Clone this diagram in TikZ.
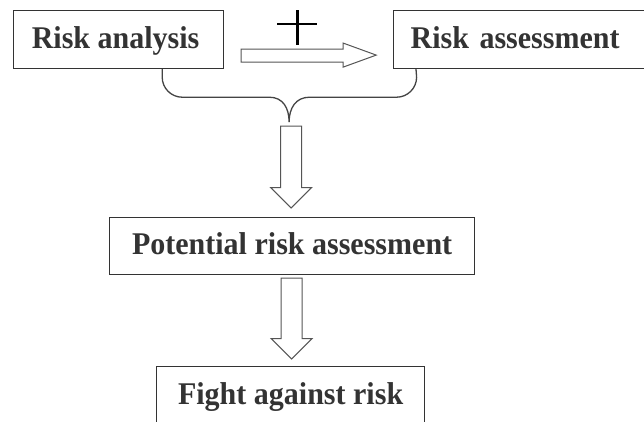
\documentclass[tikz,border=0pt]{standalone}
\usepackage{fontspec}
\setmainfont[FakeStretch=0.95]{Liberation Serif}
\usetikzlibrary{calc}
\definecolor{boxline}{HTML}{333333}
\definecolor{txtcol}{HTML}{333333}
\definecolor{arrline}{HTML}{555555}
\definecolor{bracecol}{HTML}{444444}
\newcommand\blockdown[2]{%
  \draw[blk] let \p1=(#1), \p2=(#2) in
    (\x2-10.5pt,\y1) -- (\x2+10.5pt,\y1) -- (\x2+10.5pt,\y2+20.5pt)
    -- (\x2+20.5pt,\y2+20.5pt) -- (\x2,\y2) -- (\x2-20.5pt,\y2+20.5pt)
    -- (\x2-10.5pt,\y2+20.5pt) -- cycle;}
\begin{document}
\begin{tikzpicture}[x=1pt,y=-1pt,
  box/.style={draw=boxline, line width=1.2pt, fill=white, text=txtcol,
    font=\bfseries\fontsize{31.6}{36}\selectfont, text height=21pt, text depth=4pt,
    inner xsep=0pt, anchor=north west, minimum height=58pt},
  blk/.style={draw=arrline, line width=1pt, fill=white, line join=miter},
  brc/.style={draw=bracecol, line width=1.3pt},
  pl/.style={draw=black, line width=2.6pt}]
\fill[white] (0,0) rectangle (644,421);
\useasboundingbox (0,0) rectangle (644,421);

\node[box, minimum width=210pt] (ra) at (13,10) {Risk analysis\hspace*{6pt}};
\node[box, minimum width=260pt, text width=226pt, align=left] (rs) at (393,10) {Risk assessment};
\node[box, minimum width=365pt, minimum height=57pt] (pr) at (109,217) {Potential risk assessment};
\node[box, minimum width=268pt] (ff) at (156,366) {Fight against risk};

% horizontal block arrow with plus label
\draw[blk] ($(ra.east)+(17,9.5)$) -- ++(102,0) -- ++(0,-6) -- ++(33,12)
  -- ++(-33,12) -- ++(0,-5) -- ++(-102,0) -- cycle;
\coordinate (plus) at ($(ra.east)+(73,-15.5)$);
\draw[pl] ($(plus)+(0,-14)$) -- ($(plus)+(0,21)$);
\draw[pl] ($(plus)+(-20,0)$) -- ($(plus)+(20,0)$);

% brace
\coordinate (bl) at ($(ra.south east)+(-62,0)$);
\coordinate (br) at ($(rs.south west)+(23,0)$);
\coordinate (cusp) at ($(bl)!0.5!(br)+(0,53)$);
\draw[brc] (bl) -- ++(0,8) .. controls +(0,11) and +(-11,0) .. ++(20,20)
  -- ++(87,0) .. controls +(14,0) and +(0,-14) .. (cusp)
  .. controls +(0,-14) and +(-14,0) .. ++(20.5,-25)
  -- ++(87,0) .. controls +(11,0) and +(0,11) .. ++(20,-20) -- (br);

% vertical block arrows
\blockdown{$(cusp)+(0,4)$}{$(pr.north)+(-1,-9)$}
\blockdown{$(pr.south)+(0,3)$}{$(ff.north)+(1,-7)$}
\end{tikzpicture}
\end{document}
